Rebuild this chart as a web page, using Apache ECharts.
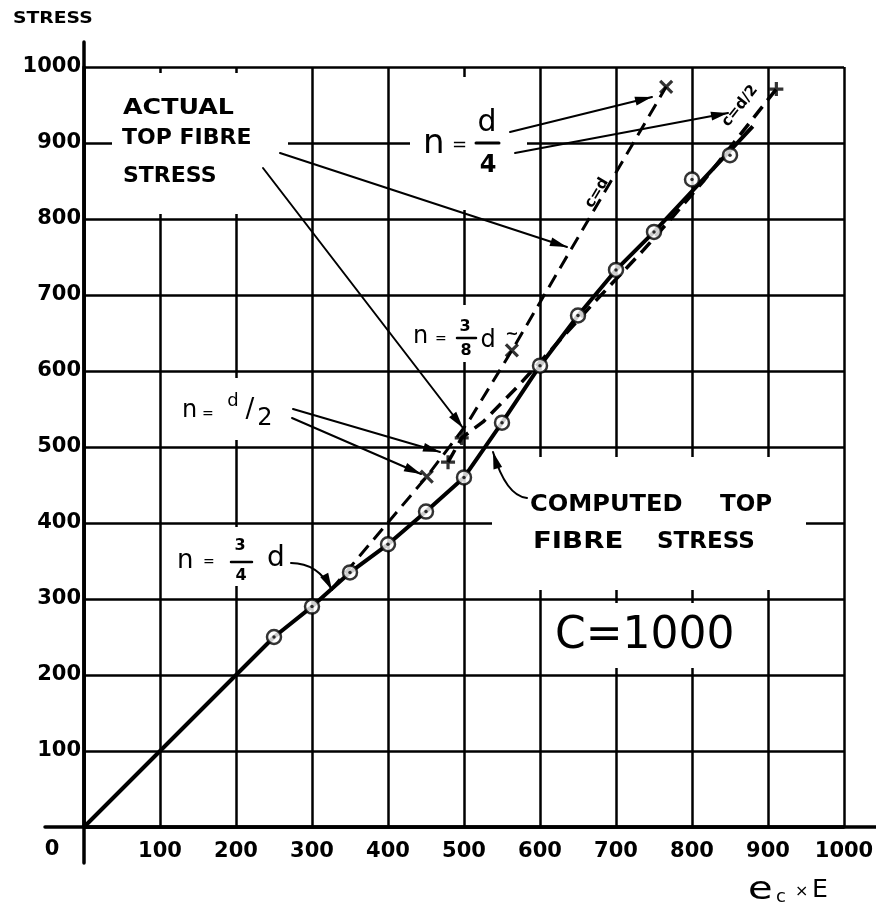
<!DOCTYPE html>
<html>
<head>
<meta charset="utf-8">
<script src="https://cdn.jsdelivr.net/npm/echarts@6/dist/echarts.min.js"></script>
<style>
  html, body { margin: 0; padding: 0; background: #fff; }
  #chart { width: 876px; height: 907px; }
</style>
</head>
<body>
<div id="chart"></div>
<script>
// Axis ticks shared by both axes (e_c x E and stress)
const tickValues = [0, 100, 200, 300, 400, 500, 600, 700, 800, 900, 1000];

// Computed top fibre stress: plotted points
const computedE      = [250, 300, 350, 400, 450, 500, 550, 600, 650, 700, 750, 800, 850];
const computedStress = [250, 290, 335, 372, 415, 460, 532, 607, 673, 733, 783, 852, 884];
// Computed curve as drawn through the points, from the origin to its upper end
const computedCurveE      = [0, 250, 300, 350, 400, 450, 500, 550, 600, 650, 700, 750, 880];
const computedCurveStress = [0, 250, 290, 335, 372, 415, 460, 532, 607, 673, 733, 783, 922];

// Actual top fibre stress, c = d
const fullDepthE      = [325, 451, 505, 563, 766];
const fullDepthStress = [312, 461, 532, 627, 974];
// Actual top fibre stress, c = d/2
const halfDepthE      = [479, 497, 525, 571, 672, 736, 780, 816, 911];
const halfDepthStress = [480, 512, 533, 580, 691, 759, 809, 851, 971];

// Points marked "x" (c = d) and "+" (c = d/2)
const crossE      = [451, 563, 766];
const crossStress = [461, 627, 974];
const plusE       = [479, 497, 911];
const plusStress  = [480, 512, 971];

const HAND = '"DejaVu Sans", "Liberation Sans", sans-serif';
const pairs = (xs, ys) => xs.map((x, i) => [x, ys[i]]);

const chart = echarts.init(document.getElementById('chart'), null, { renderer: 'canvas' });

const axisBase = {
  type: 'value',
  min: tickValues[0],
  max: tickValues[tickValues.length - 1],
  interval: tickValues[1] - tickValues[0],
  axisLine: { show: true, onZero: false, lineStyle: { color: '#000', width: 3.5 } },
  axisTick: { show: false },
  splitLine: { show: true, lineStyle: { color: '#000', width: 2.5 } }
};
const labelBase = {
  color: '#000', fontFamily: HAND, fontSize: 21, fontWeight: 'bold',
  formatter: v => (v === 0 ? '' : String(v))
};

chart.setOption({
  animation: false,
  backgroundColor: '#fff',
  grid: { left: 84, top: 67, width: 760, height: 760, containLabel: false, outerBoundsMode: 'none' },
  xAxis: Object.assign({}, axisBase, { axisLabel: Object.assign({}, labelBase, { margin: 14 }) }),
  yAxis: Object.assign({}, axisBase, { axisLabel: Object.assign({}, labelBase, { margin: 3 }) }),
  series: [
    {
      name: 'Computed top fibre stress', type: 'line', z: 3, silent: true,
      data: pairs(computedCurveE, computedCurveStress),
      symbol: 'none', showSymbol: false,
      lineStyle: { color: '#000', width: 4 }
    },
    {
      name: 'c = d', type: 'line', z: 3, silent: true,
      data: pairs(fullDepthE, fullDepthStress),
      symbol: 'none', showSymbol: false,
      lineStyle: { color: '#000', width: 3, type: [14, 8] }
    },
    {
      name: 'c = d/2', type: 'line', z: 3, silent: true,
      data: pairs(halfDepthE, halfDepthStress),
      symbol: 'none', showSymbol: false,
      lineStyle: { color: '#000', width: 3.5, type: [14, 8] }
    },
    {
      name: 'Computed points', type: 'scatter', z: 4, silent: true,
      data: pairs(computedE, computedStress),
      symbol: 'circle', symbolSize: 14,
      itemStyle: { color: '#fff', borderColor: '#000', borderWidth: 2.5 }
    },
    {
      name: 'Computed point centres', type: 'scatter', z: 5, silent: true,
      data: pairs(computedE, computedStress),
      symbol: 'circle', symbolSize: 3.5,
      itemStyle: { color: '#000' }
    },
    {
      name: 'c = d points', type: 'scatter', z: 6, silent: true,
      data: pairs(crossE, crossStress),
      symbol: 'path://M0,0L10,10M10,0L0,10', symbolSize: 12,
      itemStyle: { color: '#000', borderColor: '#000', borderWidth: 3.2 }
    },
    {
      name: 'c = d/2 points', type: 'scatter', z: 6, silent: true,
      data: pairs(plusE, plusStress),
      symbol: 'path://M5,0L5,10M0,5L10,5', symbolSize: 14,
      itemStyle: { color: '#000', borderColor: '#000', borderWidth: 3.2 }
    }
  ]
});

// ---- annotation helpers (pixel space) ----
function txt(text, x, y, size, o) {
  o = o || {};
  return {
    type: 'text', x: x, y: y, z: 20, silent: true,
    rotation: o.rot || 0, scaleX: o.sx || 1,
    style: {
      text: text, fill: '#000', fontFamily: HAND, fontSize: size,
      fontWeight: o.w || 'bold', align: o.align || 'left', verticalAlign: 'middle'
    }
  };
}
function seg(x1, y1, x2, y2, w) {
  return { type: 'line', z: 20, silent: true, shape: { x1: x1, y1: y1, x2: x2, y2: y2 },
           style: { stroke: '#000', lineWidth: w || 2, lineCap: 'round' } };
}
function head(tx, ty, fx, fy, len, half) {
  len = len || 17; half = half || 4.5;
  const dx = tx - fx, dy = ty - fy, d = Math.hypot(dx, dy) || 1;
  const ux = dx / d, uy = dy / d;
  const bx = tx - ux * len, by = ty - uy * len;
  return { type: 'polygon', z: 21, silent: true,
           shape: { points: [[tx, ty], [bx - uy * half, by + ux * half], [bx + uy * half, by - ux * half]] },
           style: { fill: '#000' } };
}
function arrow(x1, y1, x2, y2) { return [seg(x1, y1, x2, y2), head(x2, y2, x1, y1)]; }
function curveArrow(x1, y1, cx, cy, x2, y2) {
  return [
    { type: 'bezierCurve', z: 20, silent: true,
      shape: { x1: x1, y1: y1, x2: x2, y2: y2, cpx1: cx, cpy1: cy },
      style: { stroke: '#000', lineWidth: 2, fill: 'none', lineCap: 'round' } },
    head(x2, y2, cx, cy)
  ];
}
function mask(x, y, w, h) {
  return { type: 'rect', z: 1, silent: true, shape: { x: x, y: y, width: w, height: h }, style: { fill: '#fff' } };
}

const origin = chart.convertToPixel({ gridIndex: 0 }, [tickValues[0], tickValues[0]]);
const corner = chart.convertToPixel({ gridIndex: 0 }, [tickValues[tickValues.length - 1], tickValues[tickValues.length - 1]]);

const elements = [].concat(
  // clear spaces in the grid around the lettering
  mask(112, 73, 176, 141),
  mask(410, 77, 117, 133),
  mask(408, 305, 112, 57),
  mask(175, 378, 115, 62),
  mask(170, 527, 122, 59),
  mask(492, 457, 314, 133),
  mask(548, 603, 197, 65),

  // axes run a little past the grid
  seg(origin[0], corner[1] - 25, origin[0], origin[1] + 36, 3.5),
  seg(origin[0] - 39, origin[1], 876, origin[1], 3.5),

  // axis titles and origin
  txt('STRESS', 13, 19, 15, { sx: 1.25 }),
  txt('0', 52, 850, 21, { align: 'center' }),
  txt('e', 748, 891, 32, { w: 'normal', sx: 1.25 }),
  txt('c', 776, 897, 18, { w: 'normal' }),
  txt('\u00d7', 795, 892, 16, { w: 'normal' }),
  txt('E', 812, 891, 24, { w: 'normal', sx: 1.05 }),

  // ACTUAL TOP FIBRE STRESS
  txt('ACTUAL', 123, 108, 22, { sx: 1.15 }),
  txt('TOP FIBRE', 122, 138, 22),
  txt('STRESS', 123, 176, 22),
  arrow(280, 153, 567, 247),
  arrow(263, 168, 463, 428),

  // n = d/4
  txt('n', 423, 144, 34, { w: 'normal' }),
  txt('=', 452, 145, 18, { w: 'normal' }),
  txt('d', 487, 123, 30, { w: 'normal', align: 'center' }),
  seg(476, 143, 499, 143, 3),
  txt('4', 488, 166, 24, { align: 'center' }),
  arrow(510, 132, 652, 97),
  arrow(515, 153, 728, 113),

  // n = 3/8 d
  txt('n', 413, 337, 24, { w: 'normal' }),
  txt('=', 435, 339, 14, { w: 'normal' }),
  txt('3', 465, 327, 16, { align: 'center' }),
  seg(457, 338, 476, 338, 2.5),
  txt('8', 466, 351, 16, { align: 'center' }),
  txt('d', 488, 341, 24, { w: 'normal', align: 'center' }),
  txt('~', 512, 335, 16, { align: 'center' }),

  // n = d/2
  txt('n', 182, 411, 24, { w: 'normal' }),
  txt('=', 202, 414, 14, { w: 'normal' }),
  txt('d', 233, 401, 18, { w: 'normal', align: 'center' }),
  txt('/', 250, 410, 26, { w: 'normal', align: 'center' }),
  txt('2', 265, 419, 24, { w: 'normal', align: 'center' }),
  arrow(293, 409, 440, 452),
  arrow(292, 418, 421, 474),

  // n = 3/4 d
  txt('n', 177, 561, 26, { w: 'normal' }),
  txt('=', 203, 562, 14, { w: 'normal' }),
  txt('3', 240, 546, 16, { align: 'center' }),
  seg(231, 562, 252, 562, 2.5),
  txt('4', 241, 576, 16, { align: 'center' }),
  txt('d', 276, 559, 28, { w: 'normal', align: 'center' }),
  curveArrow(291, 563, 318, 563, 332, 590),

  // COMPUTED TOP FIBRE STRESS
  txt('COMPUTED', 530, 505, 23, { sx: 1.05 }),
  txt('TOP', 720, 505, 23),
  txt('FIBRE', 533, 542, 23, { sx: 1.2 }),
  txt('STRESS', 657, 542, 23),
  curveArrow(527, 498, 506, 496, 493, 452),

  // curve labels
  txt('c=d', 597, 193, 15, { align: 'center', rot: 1.03 }),
  txt('c=d/2', 740, 106, 15, { align: 'center', rot: 0.9 }),

  // C = 1000
  txt('C=1000', 555, 637, 44, { w: 'normal' })
);

chart.setOption({ graphic: { elements: elements } });
</script>
</body>
</html>
